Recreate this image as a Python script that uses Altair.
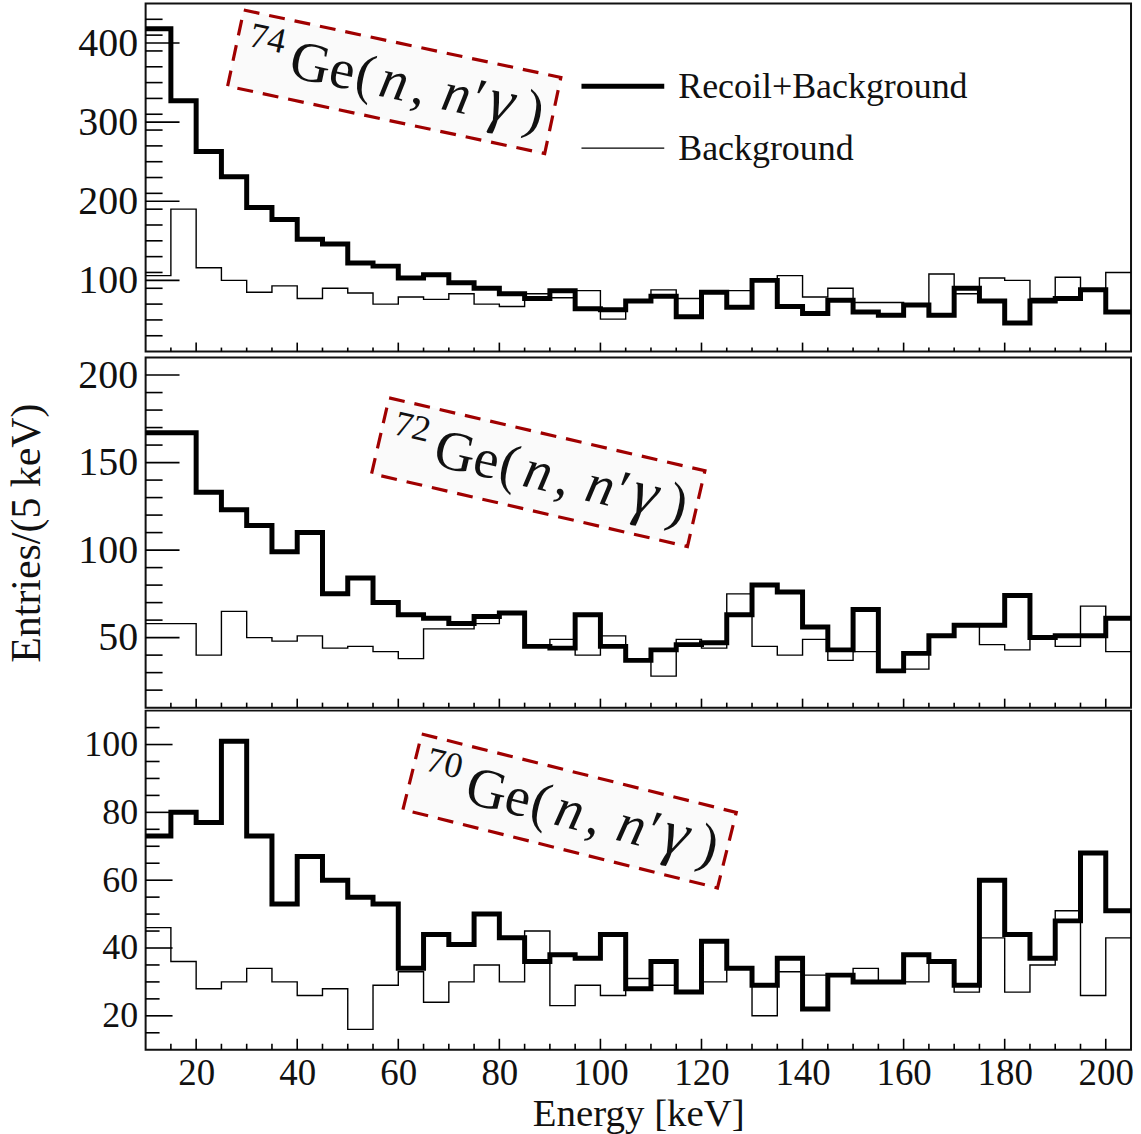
import altair as alt
import pandas as pd

# ---------------- data ----------------
energy_low = list(range(10, 205, 5))   # lower bin edges [keV], 5 keV bins
energy_high = 205

recoil_74 = [418, 327, 263, 231, 192, 177, 152, 146, 122, 118, 103, 107, 97, 90, 83, 77, 87, 64, 63, 74,
             80, 54, 85, 66, 100, 67, 58, 75, 60, 56, 69, 56, 90, 74, 46, 74, 77, 88, 60]
bg_74 = [106, 190, 116, 100, 85, 93, 77, 90, 84, 70, 79, 76, 83, 70, 67, 83, 78, 87, 51, 74,
         88, 77, 87, 87, 100, 106, 79, 90, 72, 72, 69, 108, 83, 103, 100, 77, 104, 88, 110]

recoil_72 = [167, 167, 133, 123, 114, 99, 110, 75, 84, 70, 63, 61, 58, 62, 64, 45, 44, 63, 45, 37,
             43, 46, 47, 63, 80, 76, 56, 43, 66, 31, 41, 51, 57, 57, 74, 50, 51, 51, 61]
bg_72 = [58, 58, 40, 65, 50, 48, 51, 44, 45, 42, 38, 55, 55, 58, 64, 45, 49, 40, 51, 37,
         28, 49, 44, 75, 45, 40, 49, 37, 42, 31, 32, 51, 57, 46, 43, 51, 45, 68, 42]

recoil_70 = [73, 80, 77, 101, 73, 53, 67, 60, 55, 53, 34, 44, 41, 50, 43, 36, 38, 37, 44, 28,
             36, 27, 42, 34, 29, 37, 22, 32, 30, 30, 38, 36, 29, 60, 44, 37, 48, 68, 51]
bg_70 = [46, 36, 28, 30, 34, 30, 26, 28, 16, 29, 33, 24, 30, 35, 30, 45, 23, 29, 26, 31,
         29, 27, 30, 34, 20, 33, 32, 32, 34, 30, 30, 36, 27, 43, 27, 35, 51, 26, 43]

x_tick_labels = [20, 40, 60, 80, 100, 120, 140, 160, 180, 200]
legend_labels = ["Recoil+Background", "Background"]
isotopes = ["74", "72", "70"]
y_title = "Entries/(5 keV)"
x_title = "Energy [keV]"

# ---------------- style ----------------
FONT = "Liberation Serif"
INK = "#111111"
BOX_RED = "#a00000"
PLOT_W = 988
BOX_W, BOX_H = 325, 78

# reaction label pieces: text, offset along rotated baseline, offset across, size, style
LABEL_PIECES = [
    ("ISO", -151, -4.5, 36, "normal"),
    ("Ge", -106, 17, 56, "normal"),
    ("(", -39, 17, 56, "normal"),
    ("n", -14, 17, 56, "italic"),
    (",", 19, 17, 56, "normal"),
    ("n", 50, 17, 56, "italic"),
    ("\u2032", 81, 17, 56, "normal"),
    ("\u03b3", 97, 17, 64, "italic"),
    (")", 134, 17, 56, "normal"),
]


def step_df(vals):
    return pd.DataFrame({"x": energy_low + [energy_high], "y": list(vals) + [vals[-1]]})


def make_panel(recoil, bg, ydom, height, ymaj, ystep, ylen, xlen, iso, box, ylab_size,
               show_x=False, title=None, legend=False):
    xs = alt.Scale(domain=[10, energy_high], nice=False, zero=False)
    ys = alt.Scale(domain=ydom, nice=False, zero=False)

    if show_x:
        xaxis = alt.Axis(values=x_tick_labels, title=x_title, labelFont=FONT, labelFontSize=37,
                         labelColor=INK, labelPadding=6, labelFlush=False, labelOverlap=False,
                         ticks=False, domain=False, grid=False, titleFont=FONT, titleFontSize=39,
                         titleFontWeight="normal", titleColor=INK, titlePadding=3)
    else:
        xaxis = None

    yaxis_kw = dict(values=ymaj, labelFont=FONT, labelFontSize=ylab_size, labelColor=INK,
                    labelPadding=8, labelFlush=False, labelOverlap=False, ticks=False,
                    domain=False, grid=False)
    if title:
        yaxis_kw.update(title=title, titleFont=FONT, titleFontSize=42, titleFontWeight="normal",
                        titleColor=INK, titlePadding=29)
    yaxis = alt.Axis(**yaxis_kw)

    def X():
        return alt.X("x:Q", scale=xs, axis=xaxis)

    def Y():
        if title:
            return alt.Y("y:Q", scale=ys, axis=yaxis)
        return alt.Y("y:Q", scale=ys, axis=yaxis, title=None)

    layers = []
    layers.append(alt.Chart(step_df(bg)).mark_line(
        interpolate="step-after", color="#000", strokeWidth=1.4, clip=True
    ).encode(x=X(), y=Y()))
    layers.append(alt.Chart(step_df(recoil)).mark_line(
        interpolate="step-after", color="#000", strokeWidth=5, strokeJoin="miter", clip=True
    ).encode(x=X(), y=Y()))

    # inward ticks
    ymin_ticks = [v for v in range(ydom[0] + ystep, ydom[1], ystep) if v not in ymaj]
    xmin_ticks = [v for v in range(15, energy_high, 5) if v not in x_tick_labels]
    layers.append(alt.Chart(pd.DataFrame({"y": ymaj})).mark_rule(color="#000", strokeWidth=1.6).encode(
        y=Y(), x=alt.value(0), x2=alt.value(ylen[0])))
    layers.append(alt.Chart(pd.DataFrame({"y": ymin_ticks})).mark_rule(color="#000", strokeWidth=1.6).encode(
        y=Y(), x=alt.value(0), x2=alt.value(ylen[1])))
    layers.append(alt.Chart(pd.DataFrame({"x": x_tick_labels})).mark_rule(color="#000", strokeWidth=1.6).encode(
        x=X(), y=alt.value(height), y2=alt.value(height - xlen[0])))
    layers.append(alt.Chart(pd.DataFrame({"x": xmin_ticks})).mark_rule(color="#000", strokeWidth=1.6).encode(
        x=X(), y=alt.value(height), y2=alt.value(height - xlen[1])))

    # annotation box
    bx, by, ang = box
    bdf = pd.DataFrame({"x": [bx], "y": [by]})
    r = BOX_H / BOX_W
    shape = f"M-1,-{r:.4f}L1,-{r:.4f}L1,{r:.4f}L-1,{r:.4f}Z"
    layers.append(alt.Chart(bdf).mark_point(
        shape=shape, size=BOX_W ** 2, angle=ang, filled=True, fill="#fafafa", fillOpacity=1,
        stroke=BOX_RED, strokeWidth=3.2, strokeDash=[16, 10], strokeOpacity=1, opacity=1
    ).encode(x=X(), y=Y()))
    for txt, u, v, size, style in LABEL_PIECES:
        t = iso if txt == "ISO" else txt
        layers.append(alt.Chart(bdf).mark_text(
            text=t, align="left", baseline="alphabetic", angle=ang, dx=u, dy=v,
            font=FONT, fontSize=size, fontStyle=style, color=INK
        ).encode(x=X(), y=Y()))

    if legend:
        one = pd.DataFrame({"k": [0]})
        layers.append(alt.Chart(one).mark_rule(color="#000", strokeWidth=5).encode(
            x=alt.value(437), x2=alt.value(520), y=alt.value(83)))
        layers.append(alt.Chart(one).mark_rule(color="#000", strokeWidth=1.4).encode(
            x=alt.value(437), x2=alt.value(520), y=alt.value(145)))
        layers.append(alt.Chart(one).mark_text(
            text=legend_labels[0], align="left", baseline="alphabetic", font=FONT, fontSize=36, color=INK
        ).encode(x=alt.value(534), y=alt.value(95)))
        layers.append(alt.Chart(one).mark_text(
            text=legend_labels[1], align="left", baseline="alphabetic", font=FONT, fontSize=36, color=INK
        ).encode(x=alt.value(534), y=alt.value(157)))

    return alt.layer(*layers).properties(width=PLOT_W, height=height)


p1 = make_panel(recoil_74, bg_74, [10, 450], 349, [100, 200, 300, 400], 20, (34, 17), (9, 4),
                isotopes[0], (59.2, 351, 12), 40, legend=True)
p2 = make_panel(recoil_72, bg_72, [10, 210], 351, [50, 100, 150, 200], 10, (34, 17), (9, 5),
                isotopes[1], (87.7, 144.5, 13), 40, title=y_title)
p3 = make_panel(recoil_70, bg_70, [10, 110], 340, [20, 40, 60, 80, 100], 5, (27, 14), (11, 6),
                isotopes[2], (93.9, 80.4, 14), 36, show_x=True)

chart = alt.vconcat(p1, p2, p3, spacing=0).properties(
    padding={"left": 5, "top": 1, "right": 6, "bottom": 0},
    background="white",
).configure_view(stroke="#111", strokeWidth=2).configure_concat(spacing=0)

chart.save("out.html", embed_options={"renderer": "svg", "actions": False})
